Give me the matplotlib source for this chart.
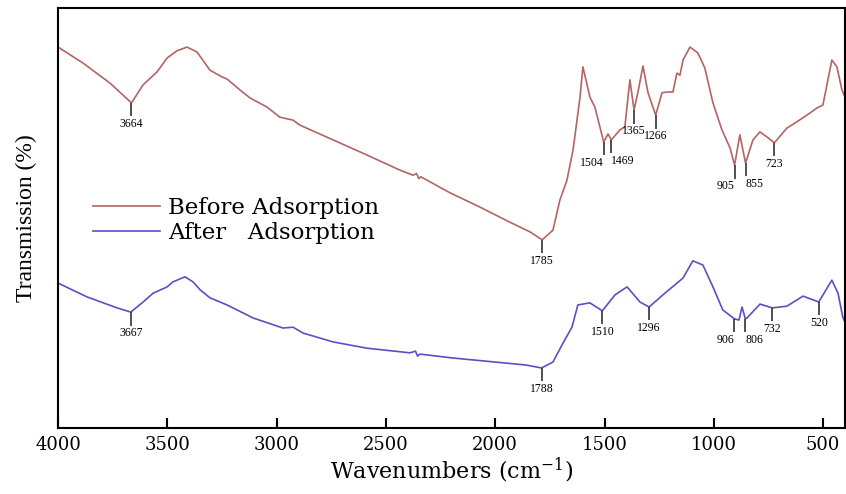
import numpy as np
import matplotlib
matplotlib.use('Agg')
import matplotlib.pyplot as plt

plt.rcParams['font.family'] = ['Liberation Serif', 'DejaVu Serif']

# FTIR espectro antes da adsorcao (numero de onda, transmissao relativa)
wn_before = [4000, 3886, 3762, 3664, 3611, 3547, 3501, 3456, 3410, 3364, 3305, 3250,
             3227, 3168, 3122, 3044, 2985, 2925, 2893, 2742, 2587, 2436, 2376,
             2360, 2350, 2340, 2207, 2070, 1933, 1841, 1785, 1736, 1704, 1672, 1644,
             1612, 1599, 1567, 1544, 1504, 1484, 1469, 1429, 1407, 1384, 1365, 1347,
             1324, 1301, 1266, 1237, 1214, 1187, 1169, 1155, 1141, 1109, 1073, 1041,
             1004, 963, 926, 905, 881, 855, 821, 789, 757, 723, 666, 620, 574, 528,
             501, 460, 437, 414, 400]
t_before = [90.7, 86.9, 82.1, 77.4, 81.7, 84.8, 88.1, 89.8, 90.7, 89.5, 85.2, 83.6,
            83.1, 80.5, 78.6, 76.4, 74.0, 73.3, 72.1, 68.6, 65.0, 61.4, 60.2,
            60.6, 59.4, 59.8, 56.0, 52.6, 49.0, 46.7, 44.8, 47.1, 54.3, 59.0, 66.2,
            78.8, 86.0, 78.8, 76.4, 68.1, 70.0, 68.6, 71.0, 71.7, 82.9, 75.7, 80.0,
            86.2, 79.8, 74.5, 79.8, 80.0, 80.0, 84.5, 84.0, 87.6, 90.7, 89.3, 85.7,
            77.4, 71.0, 66.7, 62.6, 69.8, 63.1, 68.6, 70.5, 69.3, 67.9, 71.4, 72.9,
            74.5, 76.2, 76.9, 87.6, 86.0, 80.5, 78.8]

# depois da adsorcao
wn_after = [4000, 3867, 3730, 3667, 3611, 3565, 3501, 3474, 3419, 3383, 3350, 3305,
            3227, 3108, 2971, 2925, 2879, 2742, 2587, 2390, 2365, 2355, 2345, 2200,
            2000, 1860, 1788, 1736, 1690, 1649, 1622, 1567, 1510, 1452, 1397, 1338,
            1296, 1233, 1141, 1096, 1050, 1004, 959, 906, 885, 871, 856, 848, 789,
            732, 666, 592, 520, 460, 432, 410, 400]
t_after = [34.5, 31.2, 28.6, 27.6, 30.0, 32.1, 33.6, 34.8, 36.0, 34.8, 32.9, 31.0,
           29.3, 26.2, 23.8, 24.0, 22.6, 20.5, 19.0, 17.9, 18.3, 17.1, 17.6, 16.7,
           15.7, 15.0, 14.3, 15.7, 20.2, 24.0, 29.3, 29.8, 27.9, 31.7, 33.6, 30.0,
           28.8, 31.7, 35.7, 39.8, 38.8, 33.6, 28.1, 26.0, 25.7, 28.8, 26.0, 26.2,
           29.5, 28.6, 29.0, 31.4, 30.0, 35.2, 32.1, 26.4, 25.2]

# picos marcados
peaks_before = [3664, 1785, 1504, 1469, 1365, 1266, 905, 855, 723]
labels_before = ['3664', '1785', '1504', '1469', '1365', '1266', '905', '855', '723']
align_before = ['center', 'center', 'right', 'left', 'center', 'center', 'right', 'left', 'center']
peaks_after = [3667, 1788, 1510, 1296, 906, 856, 732, 520]
labels_after = ['3667', '1788', '1510', '1296', '906', '806', '732', '520']
align_after = ['center', 'center', 'center', 'center', 'right', 'left', 'center', 'center']

fig = plt.figure(figsize=(8.46, 4.94), dpi=100)
ax = fig.add_axes([0.0686, 0.1336, 0.9302, 0.8502])

ax.plot(wn_before, t_before, color='#b36464', linewidth=1.2, label='Before Adsorption')
ax.plot(wn_after, t_after, color='#5a50c4', linewidth=1.2, label='After   Adsorption')


def marca_picos(wn, t, picos, textos, alinh):
    x = np.array(wn)[::-1]
    y = np.array(t)[::-1]
    for p, txt, ha in zip(picos, textos, alinh):
        yv = np.interp(p, x, y)
        ax.vlines(p, yv - 3.2, yv, color='#333333', linewidth=1.2)
        ax.text(p, yv - 3.6, txt, ha=ha, va='top', fontsize=8.5)


marca_picos(wn_before, t_before, peaks_before, labels_before, align_before)
marca_picos(wn_after, t_after, peaks_after, labels_after, align_after)

ax.set_xlim(4000, 400)
ax.set_ylim(0, 100)
ax.set_xticks([4000, 3500, 3000, 2500, 2000, 1500, 1000, 500])
ax.set_yticks([])
ax.tick_params(axis='x', direction='in', length=7, width=1.5, pad=6)
for lab in ax.get_xticklabels():
    lab.set_family('DejaVu Serif')
    lab.set_fontsize(13)
for s in ax.spines.values():
    s.set_linewidth(1.5)

ax.set_xlabel('Wavenumbers (cm$^{\\mathregular{-1}}$)', fontsize=16, family='DejaVu Serif', labelpad=1)
ax.set_ylabel('Transmission (%)', fontsize=17, labelpad=15)

ax.legend(loc='upper left', bbox_to_anchor=(0.045, 0.55), frameon=False,
          prop={'family': 'DejaVu Serif', 'size': 16.5},
          handlelength=2.9, handletextpad=0.35, labelspacing=0.12, borderpad=0, borderaxespad=0)

fig.savefig('out.png', dpi=100)
